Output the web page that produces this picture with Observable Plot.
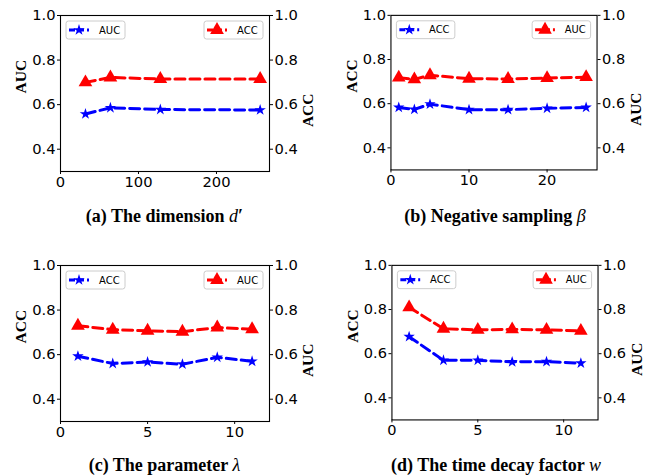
<!DOCTYPE html>
<html><head><meta charset="utf-8">
<script src="https://cdn.jsdelivr.net/npm/d3@7"></script>
<script src="https://cdn.jsdelivr.net/npm/@observablehq/plot@0.6"></script>
<style>
body{margin:0;background:#fff;}
#root{position:relative;width:657px;height:476px;overflow:hidden;background:#fff;}
.panel{position:absolute;}
.cap{position:absolute;font-family:"Liberation Serif","Times New Roman",serif;font-weight:bold;font-size:18px;white-space:nowrap;transform:translateX(-50%);color:#000;}
.cap i{font-weight:normal;}
</style></head><body><div id="root"></div>
<script>
// (a) dimension d'
const dimX = [32, 64, 128, 256];
const dimBlue = [0.558, 0.586, 0.578, 0.576];
const dimRed = [0.700, 0.722, 0.715, 0.715];
// (b) negative sampling beta
const negX = [1, 3, 5, 10, 15, 20, 25];
const negBlue = [0.583, 0.574, 0.598, 0.573, 0.573, 0.579, 0.583];
const negRed = [0.718, 0.710, 0.729, 0.713, 0.712, 0.716, 0.720];
// (c) parameter lambda
const lamX = [1, 3, 5, 7, 9, 11];
const lamBlue = [0.593, 0.560, 0.567, 0.557, 0.588, 0.570];
const lamRed = [0.730, 0.712, 0.707, 0.703, 0.722, 0.714];
// (d) time decay factor w
const twX = [1, 3, 5, 7, 9, 11];
const twBlue = [0.677, 0.570, 0.570, 0.563, 0.564, 0.557];
const twRed = [0.810, 0.713, 0.708, 0.710, 0.708, 0.703];

const yTicks = [0.4, 0.6, 0.8, 1.0];

const panels = [
  {left: 0, top: 0, ml: 60, mr: 61, xDomain: [0, 268], xTicks: [0, 100, 200],
   xs: dimX, blue: dimBlue, red: dimRed, yl: "AUC", yr: "ACC", bn: "AUC", rn: "ACC",
   cap: '(a) The dimension <i>d</i>′'},
  {left: 330, top: 0, ml: 61, mr: 61, xDomain: [0, 26.4], xTicks: [0, 10, 20],
   xs: negX, blue: negBlue, red: negRed, yl: "ACC", yr: "AUC", bn: "ACC", rn: "AUC",
   cap: '(b) Negative sampling <i>β</i>'},
  {left: 0, top: 250, ml: 60, mr: 61, xDomain: [0, 12], xTicks: [0, 5, 10],
   xs: lamX, blue: lamBlue, red: lamRed, yl: "ACC", yr: "AUC", bn: "ACC", rn: "AUC",
   cap: '(c) The parameter <i>λ</i>'},
  {left: 330, top: 250, ml: 62, mr: 60, xDomain: [0, 12], xTicks: [0, 5, 10],
   xs: twX, blue: twBlue, red: twRed, yl: "ACC", yr: "AUC", bn: "ACC", rn: "AUC",
   cap: '(d) The time decay factor <i>w</i>'}
];

const root = document.getElementById("root");
const W = 330, H = 196, MT = 15, MB = 25;
const labelFont = {fontFamily: "Liberation Serif, serif", fontWeight: "bold", fontSize: 15.5};
const tickFont = {fontSize: 14.7, fontFamily: "DejaVu Sans, sans-serif"};
const STAR_R = 3.6, TRI_R = 5.1;

panels.forEach(p => {
  const blueData = p.xs.map((x, i) => ({x, y: p.blue[i]}));
  const redData = p.xs.map((x, i) => ({x, y: p.red[i]}));
  const chart = Plot.plot({
    width: W, height: H,
    marginLeft: p.ml, marginRight: p.mr, marginTop: MT, marginBottom: MB,
    style: {fontFamily: "DejaVu Sans, sans-serif", fontSize: "14.7px", color: "#000", background: "transparent", overflow: "visible"},
    x: {domain: p.xDomain},
    y: {domain: [0.3, 1.0]},
    marks: [
      Plot.axisX({ticks: p.xTicks, tickSize: 3, tickPadding: 2, tickFormat: d => String(d), label: null, ...tickFont}),
      Plot.axisY({anchor: "left", ticks: yTicks, tickSize: 3, tickPadding: 2, tickFormat: d3.format(".1f"), label: null, ...tickFont}),
      Plot.axisY({anchor: "right", ticks: yTicks, tickSize: 3, tickPadding: 2, tickFormat: d3.format(".1f"), label: null, ...tickFont}),
      Plot.frame({stroke: "#000", strokeWidth: 1.1}),
      Plot.line(redData, {x: "x", y: "y", stroke: "#ff0000", strokeWidth: 3, strokeDasharray: "10,5"}),
      Plot.dot(redData, {x: "x", y: "y", symbol: "triangle", r: TRI_R, fill: "#ff0000", stroke: "none"}),
      Plot.line(blueData, {x: "x", y: "y", stroke: "#0000ff", strokeWidth: 3, strokeDasharray: "10,5"}),
      Plot.dot(blueData, {x: "x", y: "y", symbol: "star", r: STAR_R, fill: "#0000ff", stroke: "none"}),
      Plot.text([p.yl], {frameAnchor: "left", dx: -39, rotate: -90, text: d => d, ...labelFont, fill: "#000"}),
      Plot.text([p.yr], {frameAnchor: "right", dx: 39, rotate: -90, text: d => d, ...labelFont, fill: "#000"})
    ]
  });
  const div = document.createElement("div");
  div.className = "panel";
  div.style.left = p.left + "px";
  div.style.top = p.top + "px";
  div.appendChild(chart);
  root.appendChild(div);

  // legends drawn in pixel space inside the frame
  const svg = d3.select(chart);
  const fl = p.ml, fr = W - p.mr, ft = MT;
  function legend(bx, color, sym, symSize, name) {
    const g = svg.append("g").attr("transform", `translate(${bx},${ft + 6})`);
    g.append("rect").attr("x", 0).attr("y", 0).attr("width", 59).attr("height", 18)
      .attr("rx", 2.5).attr("fill", "#fff").attr("fill-opacity", 0.8).attr("stroke", "#cccccc").attr("stroke-width", 1);
    g.append("line").attr("x1", 3).attr("x2", 23).attr("y1", 9).attr("y2", 9)
      .attr("stroke", color).attr("stroke-width", 3).attr("stroke-dasharray", "6,3");
    g.append("path").attr("d", d3.symbol(sym, symSize)()).attr("transform", "translate(13,9)").attr("fill", color);
    g.append("text").attr("x", 33).attr("y", 9).attr("dy", "0.35em").attr("text-anchor", "start")
      .attr("font-family", "DejaVu Sans, sans-serif").attr("font-size", 10).attr("fill", "#000").text(name);
  }
  legend(fl + 6, "#0000ff", d3.symbolStar, Math.PI * STAR_R * STAR_R, p.bn);
  legend(fr - 65, "#ff0000", d3.symbolTriangle, Math.PI * TRI_R * TRI_R, p.rn);

  const cap = document.createElement("div");
  cap.className = "cap";
  cap.innerHTML = p.cap;
  cap.style.left = (p.left + (fl + fr) / 2) + "px";
  cap.style.top = (p.top + (p.top === 0 ? 206 : 205)) + "px";
  root.appendChild(cap);
});
</script>
</body></html>
